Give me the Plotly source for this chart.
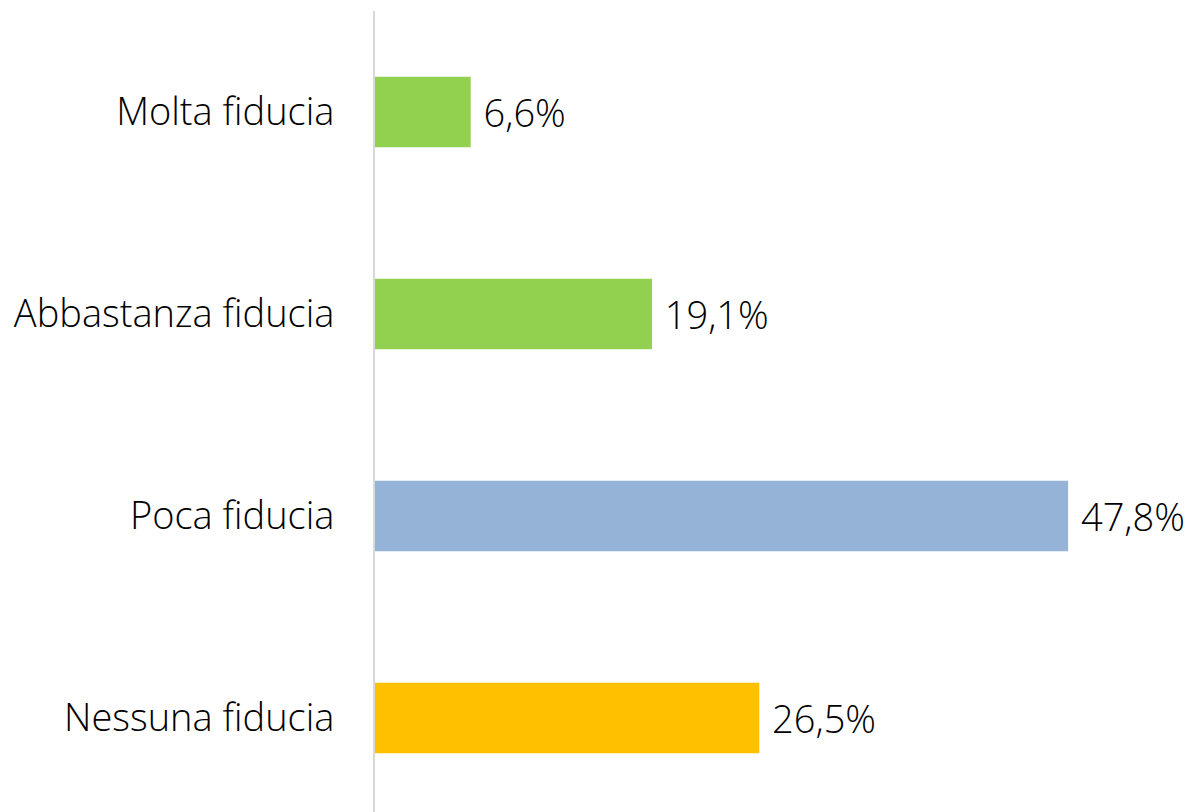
import plotly.graph_objects as go

categories = ["Nessuna fiducia", "Poca fiducia", "Abbastanza fiducia", "Molta fiducia"]
values = [26.5, 47.8, 19.1, 6.6]
labels = ["26,5%", "47,8%", "19,1%", "6,6%"]
colors = ["#FFC000", "#95B3D7", "#92D050", "#92D050"]

FONT = "Open Sans"
SIZE = 38

fig = go.Figure(
    go.Bar(
        y=categories,
        x=values,
        orientation="h",
        marker=dict(color=colors, line=dict(width=0)),
        width=0.35,
        text=[" " + t for t in labels],
        textposition="outside",
        textfont=dict(family=FONT, size=SIZE, color="#000000", weight=300),
        cliponaxis=False,
        hoverinfo="skip",
    )
)

fig.update_layout(
    width=1197,
    height=812,
    margin=dict(l=367, r=0, t=3, b=0),
    paper_bgcolor="white",
    plot_bgcolor="white",
    showlegend=False,
    font=dict(family=FONT, size=SIZE, color="#000000", weight=300),
    xaxis=dict(
        range=[0, 830 / 14.5],
        showgrid=False,
        zeroline=False,
        showticklabels=False,
        showline=False,
        fixedrange=True,
    ),
    yaxis=dict(
        type="category",
        categoryorder="array",
        categoryarray=categories,
        range=[-0.505, 3.5],
        showgrid=False,
        zeroline=False,
        showline=True,
        linecolor="#D9D9D9",
        linewidth=2,
        ticks="",
        ticklabelstandoff=31,
        tickfont=dict(family=FONT, size=SIZE, color="#000000", weight=300),
        fixedrange=True,
    ),
)

fig.write_html("out.html")
